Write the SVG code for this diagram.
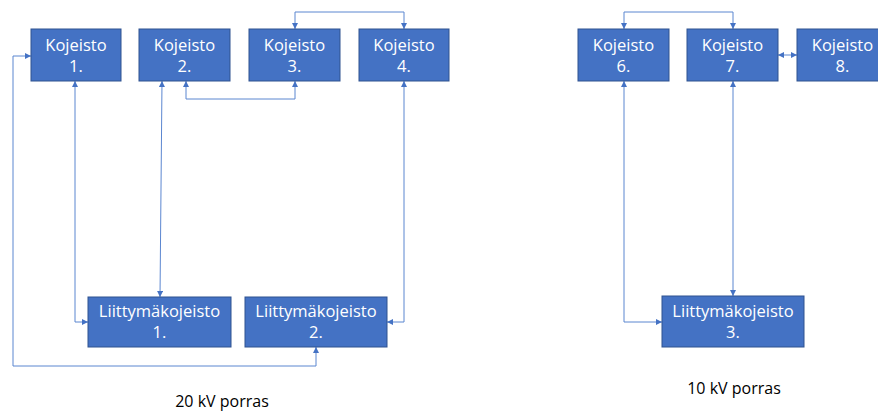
<svg xmlns="http://www.w3.org/2000/svg" width="878" height="412" viewBox="0 0 878 412">
  <style>
    .box { fill: #4472C4; stroke: #2F528F; stroke-width: 1; }
    .lbl { fill: #FFFFFF; font-family: "Open Sans", "Noto Sans", "Liberation Sans", sans-serif; font-size: 16.5px; text-anchor: middle; }
    .cap { fill: #000000; font-family: "Open Sans", "Noto Sans", "Liberation Sans", sans-serif; font-size: 16px; text-anchor: middle; }
    .wire { fill: none; stroke: #5B86D0; stroke-width: 1; marker-start: url(#tip); marker-end: url(#tip); }
  </style>
  <defs>
    <marker id="tip" viewBox="0 0 10 10" refX="10" refY="5" markerWidth="6" markerHeight="6" markerUnits="userSpaceOnUse" orient="auto-start-reverse">
      <path d="M0,0 L10,5 L0,10 z" fill="#4472C4"/>
    </marker>
  </defs>
  <rect width="878" height="412" fill="#FFFFFF"/>

  <!-- connectors -->
  <g id="connectors">
    <polyline class="wire" points="75,81 75,322 88,322"/>
    <polyline class="wire" points="162,81 160,297"/>
    <polyline class="wire" points="186,81 186,99 295,99 295,81"/>
    <polyline class="wire" points="295,29 295,12 404,12 404,29"/>
    <polyline class="wire" points="404,81 404,322 387,322"/>
    <polyline class="wire" points="31,56 13,56 13,366 316,366 316,347"/>
    <polyline class="wire" points="624,29 624,12 733,12 733,29"/>
    <polyline class="wire" points="778,55 797,55"/>
    <polyline class="wire" points="624,81 624,322 662,322"/>
    <polyline class="wire" points="733,81 733,296"/>
  </g>

  <g id="kojeisto1">
    <rect class="box" x="31" y="29" width="90" height="52"/>
    <text class="lbl" x="76" y="51">Kojeisto</text>
    <text class="lbl" x="76" y="72">1.</text>
  </g>
  <g id="kojeisto2">
    <rect class="box" x="139" y="29" width="91" height="52"/>
    <text class="lbl" x="184.5" y="51">Kojeisto</text>
    <text class="lbl" x="184.5" y="72">2.</text>
  </g>
  <g id="kojeisto3">
    <rect class="box" x="249" y="29" width="91" height="52"/>
    <text class="lbl" x="294.5" y="51">Kojeisto</text>
    <text class="lbl" x="294.5" y="72">3.</text>
  </g>
  <g id="kojeisto4">
    <rect class="box" x="359" y="29" width="90" height="52"/>
    <text class="lbl" x="404" y="51">Kojeisto</text>
    <text class="lbl" x="404" y="72">4.</text>
  </g>
  <g id="kojeisto6">
    <rect class="box" x="578" y="29" width="91" height="52"/>
    <text class="lbl" x="623.5" y="51">Kojeisto</text>
    <text class="lbl" x="623.5" y="72">6.</text>
  </g>
  <g id="kojeisto7">
    <rect class="box" x="687" y="29" width="91" height="52"/>
    <text class="lbl" x="732.5" y="51">Kojeisto</text>
    <text class="lbl" x="732.5" y="72">7.</text>
  </g>
  <g id="kojeisto8">
    <rect class="box" x="797" y="29" width="91" height="52"/>
    <text class="lbl" x="842.5" y="51">Kojeisto</text>
    <text class="lbl" x="842.5" y="72">8.</text>
  </g>
  <g id="liittyma1">
    <rect class="box" x="88" y="297" width="143" height="50"/>
    <text class="lbl" x="159.5" y="317">Liittymäkojeisto</text>
    <text class="lbl" x="159.5" y="338">1.</text>
  </g>
  <g id="liittyma2">
    <rect class="box" x="245" y="297" width="142" height="50"/>
    <text class="lbl" x="316" y="317">Liittymäkojeisto</text>
    <text class="lbl" x="316" y="338">2.</text>
  </g>
  <g id="liittyma3">
    <rect class="box" x="662" y="296" width="142" height="51"/>
    <text class="lbl" x="733" y="317">Liittymäkojeisto</text>
    <text class="lbl" x="733" y="338">3.</text>
  </g>

  <g id="captions">
    <text class="cap" x="222" y="407">20 kV porras</text>
    <text class="cap" x="734" y="394">10 kV porras</text>
  </g>
</svg>
